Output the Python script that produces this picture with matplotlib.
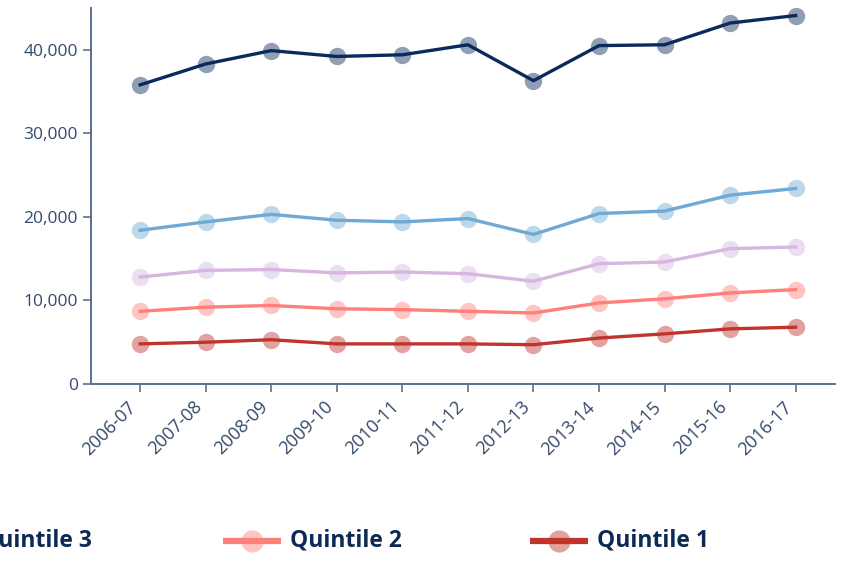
#!/usr/bin/env python3
"""Income by quintile, 2006-07 to 2016-17."""
import matplotlib
matplotlib.use("Agg")
import matplotlib.pyplot as plt
from matplotlib.lines import Line2D

years = ["2006-07", "2007-08", "2008-09", "2009-10", "2010-11", "2011-12",
         "2012-13", "2013-14", "2014-15", "2015-16", "2016-17"]

quintile5 = [35800, 38300, 39900, 39200, 39400, 40600, 36300, 40500, 40600, 43200, 44100]
quintile4 = [18400, 19400, 20300, 19600, 19400, 19800, 17900, 20400, 20700, 22600, 23400]
quintile3 = [12800, 13600, 13700, 13300, 13400, 13200, 12300, 14400, 14600, 16200, 16400]
quintile2 = [8700, 9200, 9400, 9000, 8900, 8700, 8500, 9700, 10200, 10900, 11300]
quintile1 = [4800, 5000, 5300, 4800, 4800, 4800, 4700, 5500, 6000, 6600, 6800]

series = [
    ("Quintile 5", quintile5, "#0b2a5c"),
    ("Quintile 4", quintile4, "#6fa9d4"),
    ("Quintile 3", quintile3, "#d7b6e0"),
    ("Quintile 2", quintile2, "#ff7f7a"),
    ("Quintile 1", quintile1, "#c0342e"),
]

axis_col = "#5b6f8e"
label_col = "#34496b"
text_col = "#0d2a57"

plt.rcParams["font.family"] = ["Open Sans", "DejaVu Sans"]

fig = plt.figure(figsize=(8.41, 5.62), dpi=100)
ax = fig.add_axes([91 / 841, 1 - 384 / 562, (835 - 91) / 841, (384 - 8) / 562])

x = list(range(len(years)))
for name, vals, col in series:
    ax.plot(x, vals, "-", color=col, linewidth=2.4, zorder=3)
    ax.plot(x, vals, "o", color=col, markersize=12.5, alpha=0.45,
            markeredgewidth=0, zorder=4)

ax.set_xlim(-0.75, 10.6)
ax.set_ylim(0, 45000)
ax.set_yticks([0, 10000, 20000, 30000, 40000])
ax.set_yticklabels([f"{v:,}" for v in [0, 10000, 20000, 30000, 40000]])
ax.set_xticks(x)
ax.set_xticklabels(years, rotation=45, ha="right", rotation_mode="default")

for s in ["top", "right"]:
    ax.spines[s].set_visible(False)
for s in ["left", "bottom"]:
    ax.spines[s].set_color(axis_col)
    ax.spines[s].set_linewidth(1.4)
ax.tick_params(axis="both", colors=axis_col, labelcolor=label_col,
               labelsize=12.5, length=6, width=1.2)
ax.tick_params(axis="x", pad=4, labelsize=13)

# legend row along the bottom (first entries fall off the left edge, as in the source)
leg_y = 1 - 541 / 562
legend_items = [("Quintile 3", -20, series[2][2]),
                ("Quintile 2", 290, series[3][2]),
                ("Quintile 1", 597, series[4][2])]
for name, tx, col in legend_items:
    x0 = (tx - 67) / 841
    x1 = (tx - 9) / 841
    fig.add_artist(Line2D([x0, x1], [leg_y, leg_y], transform=fig.transFigure,
                          color=col, linewidth=4.5, solid_capstyle="butt"))
    fig.add_artist(Line2D([(x0 + x1) / 2], [leg_y], transform=fig.transFigure,
                          marker="o", markersize=16, color=col, alpha=0.45,
                          markeredgewidth=0, linestyle="none"))
    fig.text(tx / 841, leg_y, name, ha="left", va="center", fontsize=16.5,
             fontweight="bold", color=text_col)

fig.savefig("out.png", dpi=100)
